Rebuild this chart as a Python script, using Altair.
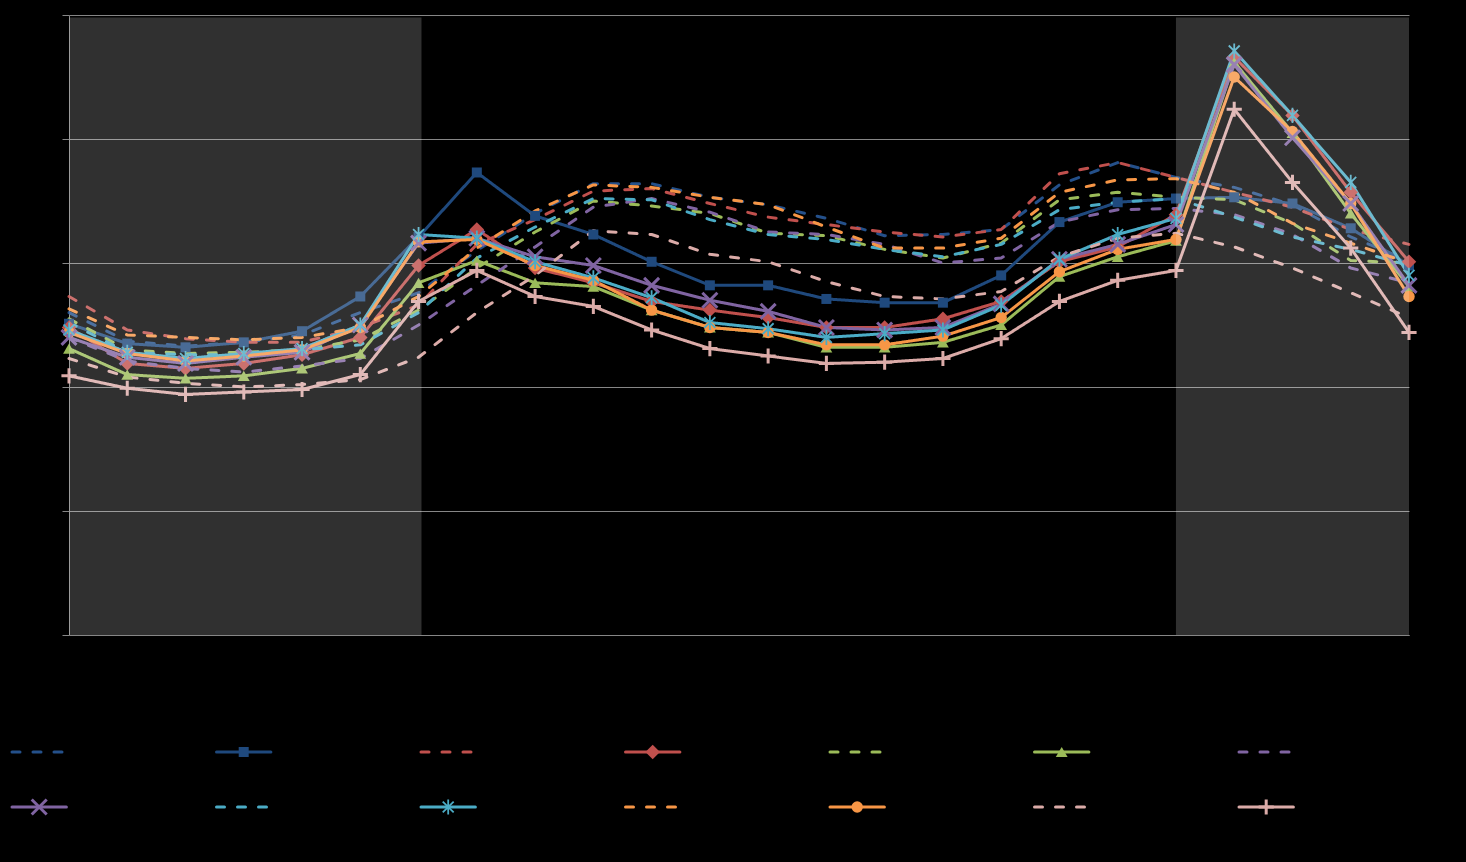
import altair as alt
import pandas as pd

hours = list(range(24))
names = [f"Series {i}" for i in range(1, 15)]

s1 = [26.0, 23.7, 23.3, 23.6, 24.2, 26.0, 27.6, 31.0, 34.0, 36.4, 36.4, 35.3, 34.7, 33.6, 32.2, 32.3, 32.7, 36.3, 38.1, 36.9, 36.1, 34.7, 32.1, 30.2]
s2 = [25.1, 23.5, 23.2, 23.6, 24.5, 27.3, 32.1, 37.3, 33.8, 32.3, 30.1, 28.2, 28.2, 27.1, 26.8, 26.8, 29.0, 33.3, 34.9, 35.2, 35.3, 34.8, 32.8, 29.8]
s3 = [27.3, 24.6, 23.9, 23.6, 23.6, 24.8, 26.6, 31.5, 33.5, 35.8, 36.0, 34.8, 33.7, 33.1, 32.5, 32.1, 32.7, 37.2, 38.1, 36.9, 35.7, 34.5, 32.7, 31.5]
s4 = [24.8, 21.9, 21.5, 21.9, 22.6, 24.0, 29.8, 32.7, 29.6, 28.4, 26.9, 26.2, 25.6, 24.8, 24.8, 25.5, 26.9, 30.1, 31.3, 33.9, 46.6, 41.9, 35.7, 30.1]
s5 = [25.5, 23.0, 22.7, 22.8, 23.0, 23.8, 26.2, 29.6, 32.5, 35.0, 34.6, 34.0, 32.4, 32.2, 31.1, 30.4, 31.6, 35.1, 35.7, 35.3, 35.1, 33.2, 30.2, 30.0]
s6 = [23.1, 21.0, 20.7, 20.9, 21.5, 22.7, 28.4, 30.2, 28.4, 28.1, 26.2, 24.8, 24.4, 23.2, 23.2, 23.6, 25.0, 28.9, 30.5, 31.8, 46.2, 40.5, 34.0, 28.1]
s7 = [24.0, 22.1, 21.5, 21.2, 21.7, 22.3, 25.0, 28.2, 31.3, 34.5, 35.2, 34.1, 32.5, 32.3, 31.5, 30.0, 30.4, 33.3, 34.3, 34.4, 33.9, 32.3, 29.6, 28.4]
s8 = [24.0, 22.4, 21.9, 22.4, 22.8, 25.0, 31.6, 32.0, 30.5, 29.8, 28.2, 27.0, 26.1, 24.8, 24.6, 24.8, 26.7, 30.3, 31.5, 33.1, 46.0, 40.1, 34.8, 28.2]
s9 = [25.2, 22.8, 22.6, 22.6, 23.0, 23.4, 26.0, 30.4, 32.9, 35.2, 35.1, 33.5, 32.3, 31.9, 31.1, 30.5, 31.5, 34.3, 34.9, 35.2, 33.7, 32.1, 31.1, 29.8]
s10 = [24.6, 22.8, 22.3, 22.7, 23.1, 25.0, 32.3, 32.0, 30.1, 28.8, 27.2, 25.2, 24.7, 24.0, 24.3, 24.6, 26.6, 30.3, 32.3, 33.6, 47.1, 41.9, 36.5, 29.0]
s11 = [26.3, 24.2, 24.0, 23.8, 24.0, 24.8, 27.3, 31.2, 34.2, 36.3, 36.1, 35.3, 34.7, 32.9, 31.2, 31.2, 32.0, 35.7, 36.7, 36.8, 35.7, 33.2, 31.6, 30.0]
s12 = [24.4, 22.7, 22.1, 22.5, 23.0, 24.8, 31.7, 31.9, 29.8, 28.6, 26.2, 24.8, 24.4, 23.4, 23.4, 24.1, 25.6, 29.3, 31.1, 31.9, 45.0, 40.6, 34.8, 27.3]
s13 = [22.3, 20.8, 20.3, 20.0, 20.2, 20.6, 22.4, 26.0, 29.0, 32.6, 32.3, 30.7, 30.1, 28.5, 27.3, 27.1, 27.7, 30.5, 32.0, 32.4, 31.3, 29.6, 27.6, 25.6]
s14 = [20.9, 19.9, 19.4, 19.6, 19.8, 21.0, 26.9, 29.4, 27.3, 26.5, 24.6, 23.1, 22.5, 21.9, 22.0, 22.3, 23.9, 26.9, 28.6, 29.4, 42.4, 36.5, 31.2, 24.4]
series_values = [s1, s2, s3, s4, s5, s6, s7, s8, s9, s10, s11, s12, s13, s14]

shade_start = [0, 19]
shade_end = [6.05, 23]
shade_top = 49.8

# styles
colors = ["#24508A", "#1F497D", "#C0504D", "#C0504D", "#9BBB59", "#9BBB59",
          "#8064A2", "#8064A2", "#4BACC6", "#4BACC6", "#F79646", "#F79646",
          "#DBABA8", "#DBABA8"]
is_dashed = [True, False] * 7
X_PATH = "M-1,-1L1,1M-1,1L1,-1"
AST_PATH = "M-0.72,-0.72L0.72,0.72M-0.72,0.72L0.72,-0.72M0,-1L0,1"
PLUS_PATH = "M-1,0L1,0M0,-1L0,1"
markers = [None, "square", None, "diamond", None, "triangle-up", None, X_PATH,
           None, AST_PATH, None, "circle", None, PLUS_PATH]
marker_size = {"square": 100, "diamond": 210, "triangle-up": 140, "circle": 130,
               X_PATH: 225, AST_PATH: 230, PLUS_PATH: 230}
marker_stroke = {X_PATH: 3, AST_PATH: 1.8, PLUS_PATH: 3}
filled_shapes = ["square", "diamond", "triangle-up", "circle"]
DASH = [8, 13]

rows = []
for i, name in enumerate(names):
    for h, v in zip(hours, series_values[i]):
        rows.append({"series": name, "order": i, "hour": h, "value": v,
                     "color": colors[i], "marker": markers[i] or "",
                     "msize": marker_size.get(markers[i], 0),
                     "mstroke": marker_stroke.get(markers[i], 0),
                     "filledm": markers[i] in filled_shapes})
df = pd.DataFrame(rows)
pts = df[df["marker"] != ""]

shade_df = pd.DataFrame({"x0": shade_start, "x1": shade_end,
                         "y0": [0] * len(shade_start), "y1": [shade_top] * len(shade_start)})

leg_df = pd.DataFrame({
    "series": names,
    "col": [i % 7 for i in range(len(names))],
    "row": [i // 7 for i in range(len(names))],
    "color": colors,
    "dashed": is_dashed,
    "marker": [m or "" for m in markers],
    "msize": [marker_size.get(m, 0) for m in markers],
    "mstroke": [marker_stroke.get(m, 0) for m in markers],
    "filledm": [m in filled_shapes for m in markers],
})

xs = alt.Scale(domain=[0, 23], nice=False, zero=False)
ys = alt.Scale(domain=[0, 50], nice=False)
GRID = "#868686"

dashes = [DASH if d else [1, 0] for d in is_dashed]

lines = alt.Chart(df).mark_line(strokeWidth=3, strokeCap="round", strokeJoin="round").encode(
    x=alt.X("hour:Q", scale=xs,
            axis=alt.Axis(labels=False, ticks=False, grid=False, domain=True,
                          domainColor=GRID, domainWidth=1, title=None)),
    y=alt.Y("value:Q", scale=ys,
            axis=alt.Axis(values=[0, 10, 20, 30, 40, 50], labels=False, ticks=True,
                          tickSize=7, tickColor=GRID, grid=True, gridColor=GRID,
                          gridWidth=1, domain=True, domainColor=GRID, title=None)),
    color=alt.Color("series:N", scale=alt.Scale(domain=names, range=colors), legend=None),
    strokeDash=alt.StrokeDash("series:N", scale=alt.Scale(domain=names, range=dashes), legend=None),
    order="order:Q",
)

pts_filled = alt.Chart(pts[pts["filledm"]]).mark_point(filled=True, opacity=1).encode(
    x=alt.X("hour:Q", scale=xs, axis=None),
    y=alt.Y("value:Q", scale=ys, axis=None),
    color=alt.Color("color:N", scale=None),
    shape=alt.Shape("marker:N", scale=None),
    size=alt.Size("msize:Q", scale=None),
)
pts_stroked = alt.Chart(pts[~pts["filledm"]]).mark_point(filled=False, opacity=1).encode(
    x=alt.X("hour:Q", scale=xs, axis=None),
    y=alt.Y("value:Q", scale=ys, axis=None),
    color=alt.Color("color:N", scale=None),
    shape=alt.Shape("marker:N", scale=None),
    size=alt.Size("msize:Q", scale=None),
    strokeWidth=alt.StrokeWidth("mstroke:Q", scale=None),
)

shade = alt.Chart(shade_df).mark_rect(color="white", opacity=0.19).encode(
    x=alt.X("x0:Q", scale=xs, axis=None),
    x2="x1:Q",
    y=alt.Y("y0:Q", scale=ys, axis=None),
    y2="y1:Q",
)

lx = alt.Scale(domain=[0, 7], range=[-57, 1374.5], nice=False, zero=False)
ly = alt.Scale(domain=[0, 1], range=[737, 792], nice=False, zero=False)

leg_base = alt.Chart(leg_df).transform_calculate(
    xe="datum.col + 0.266", xm="datum.col + 0.133")

leg_dashed = leg_base.transform_filter("datum.dashed").mark_rule(
    strokeWidth=3, strokeCap="round", strokeDash=DASH).encode(
    x=alt.X("col:Q", scale=lx, axis=None), x2="xe:Q",
    y=alt.Y("row:Q", scale=ly, axis=None),
    color=alt.Color("color:N", scale=None))
leg_solid = leg_base.transform_filter("!datum.dashed").mark_rule(
    strokeWidth=3, strokeCap="round").encode(
    x=alt.X("col:Q", scale=lx, axis=None), x2="xe:Q",
    y=alt.Y("row:Q", scale=ly, axis=None),
    color=alt.Color("color:N", scale=None))
leg_mf = leg_base.transform_filter("datum.filledm").mark_point(filled=True, opacity=1).encode(
    x=alt.X("xm:Q", scale=lx, axis=None),
    y=alt.Y("row:Q", scale=ly, axis=None),
    color=alt.Color("color:N", scale=None),
    shape=alt.Shape("marker:N", scale=None),
    size=alt.Size("msize:Q", scale=None))
leg_ms = leg_base.transform_filter("!datum.filledm && datum.marker != ''").mark_point(
    filled=False, opacity=1).encode(
    x=alt.X("xm:Q", scale=lx, axis=None),
    y=alt.Y("row:Q", scale=ly, axis=None),
    color=alt.Color("color:N", scale=None),
    shape=alt.Shape("marker:N", scale=None),
    size=alt.Size("msize:Q", scale=None),
    strokeWidth=alt.StrokeWidth("mstroke:Q", scale=None))

chart = alt.layer(lines, pts_filled, pts_stroked, shade,
                  leg_dashed, leg_solid, leg_mf, leg_ms).resolve_scale(
    x="independent", y="independent", color="independent",
    shape="independent", size="independent", strokeDash="independent",
    strokeWidth="independent"
).properties(
    width=1340, height=620,
    autosize=alt.AutoSizeParams(type="none"),
    padding={"left": 69, "top": 15, "right": 57, "bottom": 227},
    background="black",
).configure_view(stroke=None)

chart.save("out.html", embed_options={"renderer": "svg", "actions": False})
